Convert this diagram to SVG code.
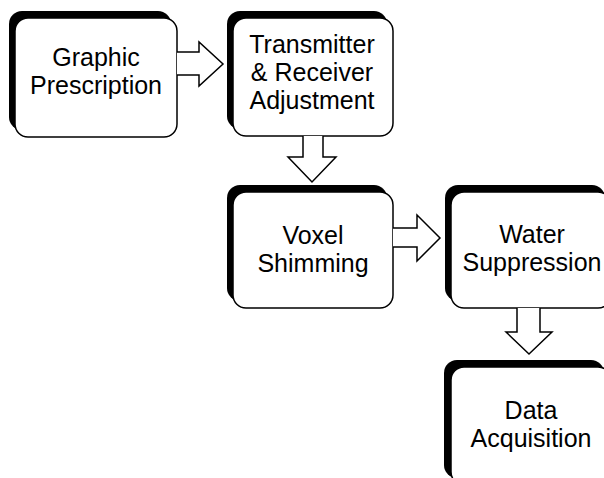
<svg xmlns="http://www.w3.org/2000/svg" width="604" height="478" viewBox="0 0 604 478">
  <defs>
    <style>
      .shadow { fill: #000; }
      .card { fill: #fff; stroke: #000; stroke-width: 1.5; }
      .label { font-family: "Liberation Sans", Arial, sans-serif; font-size: 25px; fill: #000; text-anchor: middle; }
      .flow { fill: #fff; stroke: #000; stroke-width: 1.5; stroke-linejoin: miter; }
    </style>
  </defs>
  <rect width="604" height="478" fill="#fff"/>

  <!-- process steps: offset black slab behind a rounded white card -->
  <g id="graphic-prescription">
    <rect class="shadow" x="9" y="11" width="162" height="119" rx="13"/>
    <rect class="card" x="15" y="18" width="162" height="119" rx="13"/>
    <text class="label" x="96" y="66">Graphic</text>
    <text class="label" x="96" y="94">Prescription</text>
  </g>

  <g id="transmitter-receiver">
    <rect class="shadow" x="227" y="11" width="160" height="118" rx="13"/>
    <rect class="card" x="233" y="18" width="160" height="118" rx="13"/>
    <text class="label" x="312" y="53">Transmitter</text>
    <text class="label" x="312" y="81">&amp; Receiver</text>
    <text class="label" x="312" y="109">Adjustment</text>
  </g>

  <g id="voxel-shimming">
    <rect class="shadow" x="227" y="185" width="160" height="116" rx="13"/>
    <rect class="card" x="233" y="192" width="160" height="116" rx="13"/>
    <text class="label" x="313" y="244">Voxel</text>
    <text class="label" x="313" y="272">Shimming</text>
  </g>

  <g id="water-suppression">
    <rect class="shadow" x="445" y="185" width="160" height="116" rx="13"/>
    <rect class="card" x="451" y="192" width="160" height="116" rx="13"/>
    <text class="label" x="532" y="243">Water</text>
    <text class="label" x="532" y="271">Suppression</text>
  </g>

  <g id="data-acquisition">
    <rect class="shadow" x="444" y="360" width="160" height="118" rx="13"/>
    <rect class="card" x="451" y="367" width="160" height="118" rx="13"/>
    <text class="label" x="531" y="419">Data</text>
    <text class="label" x="531" y="447">Acquisition</text>
  </g>

  <!-- hollow block arrows between steps -->
  <g id="connectors">
    <path class="flow" d="M177,52 H199 V42 L223,64 L199,86 V75 H177"/>
    <path class="flow" d="M303,136 V157 H288 L312,182 L336,157 H323 V136"/>
    <path class="flow" d="M393,228 H417 V215 L440,238 L417,261 V247 H393"/>
    <path class="flow" d="M517,308 V332 H506 L529,354 L552,332 H540 V308"/>
  </g>
</svg>
